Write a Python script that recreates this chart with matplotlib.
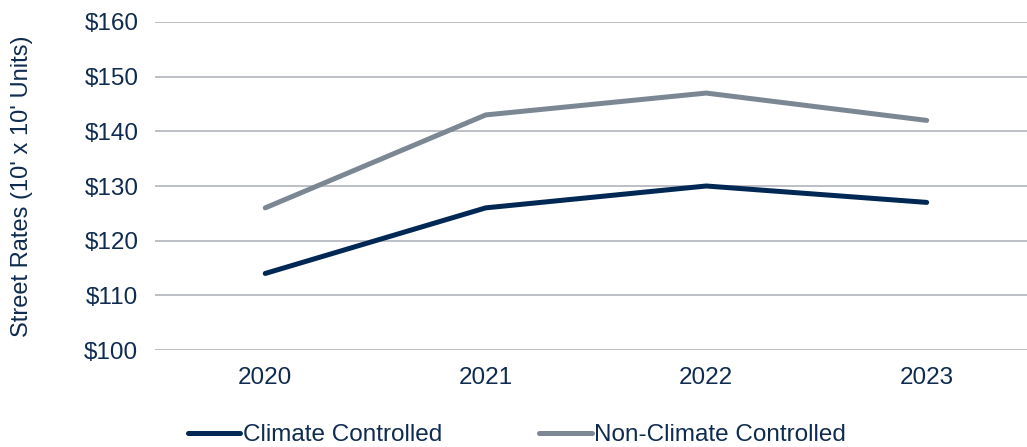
import matplotlib.pyplot as plt

# data
years = ['2020', '2021', '2022', '2023']
climate = [114, 126, 130, 127]
non_climate = [126, 143, 147, 142]
yticks = [100, 110, 120, 130, 140, 150, 160]

navy = '#002855'
gray = '#7C8794'
txt = '#0F2B50'

plt.rcParams['font.family'] = ['Liberation Sans', 'DejaVu Sans']

fig = plt.figure(figsize=(10.27, 4.47), dpi=100)
ax = fig.add_axes([155/1027, 1 - 350/447, 872/1027, 328/447])

x = range(len(years))
ax.plot(x, climate, color=navy, lw=3.6, solid_capstyle='round', label='Climate Controlled')
ax.plot(x, non_climate, color=gray, lw=3.6, solid_capstyle='round', label='Non-Climate Controlled')

ax.set_xlim(-0.5, 3.455)
ax.set_ylim(100, 160)
ax.set_yticks(yticks)
ax.set_yticklabels(['$%d' % v for v in yticks])
ax.set_xticks(list(x))
ax.set_xticklabels(years)
ax.grid(axis='y', color='#A9AEB5', lw=1.1)
ax.set_axisbelow(True)
for s in ax.spines.values():
    s.set_visible(False)
ax.tick_params(length=0, labelsize=17.5, labelcolor=txt)
ax.tick_params(axis='y', pad=12)
ax.tick_params(axis='x', pad=12)
ax.set_ylabel("Street Rates (10' x 10' Units)", fontsize=17, color=txt, labelpad=37)

leg = ax.legend(loc='upper left', bbox_to_anchor=(0.013, -0.16), ncol=2, frameon=False,
                fontsize=17.5, handlelength=2.15, handletextpad=0.1, columnspacing=4.0)
for t in leg.get_texts():
    t.set_color(txt)

fig.savefig('out.png', dpi=100)
